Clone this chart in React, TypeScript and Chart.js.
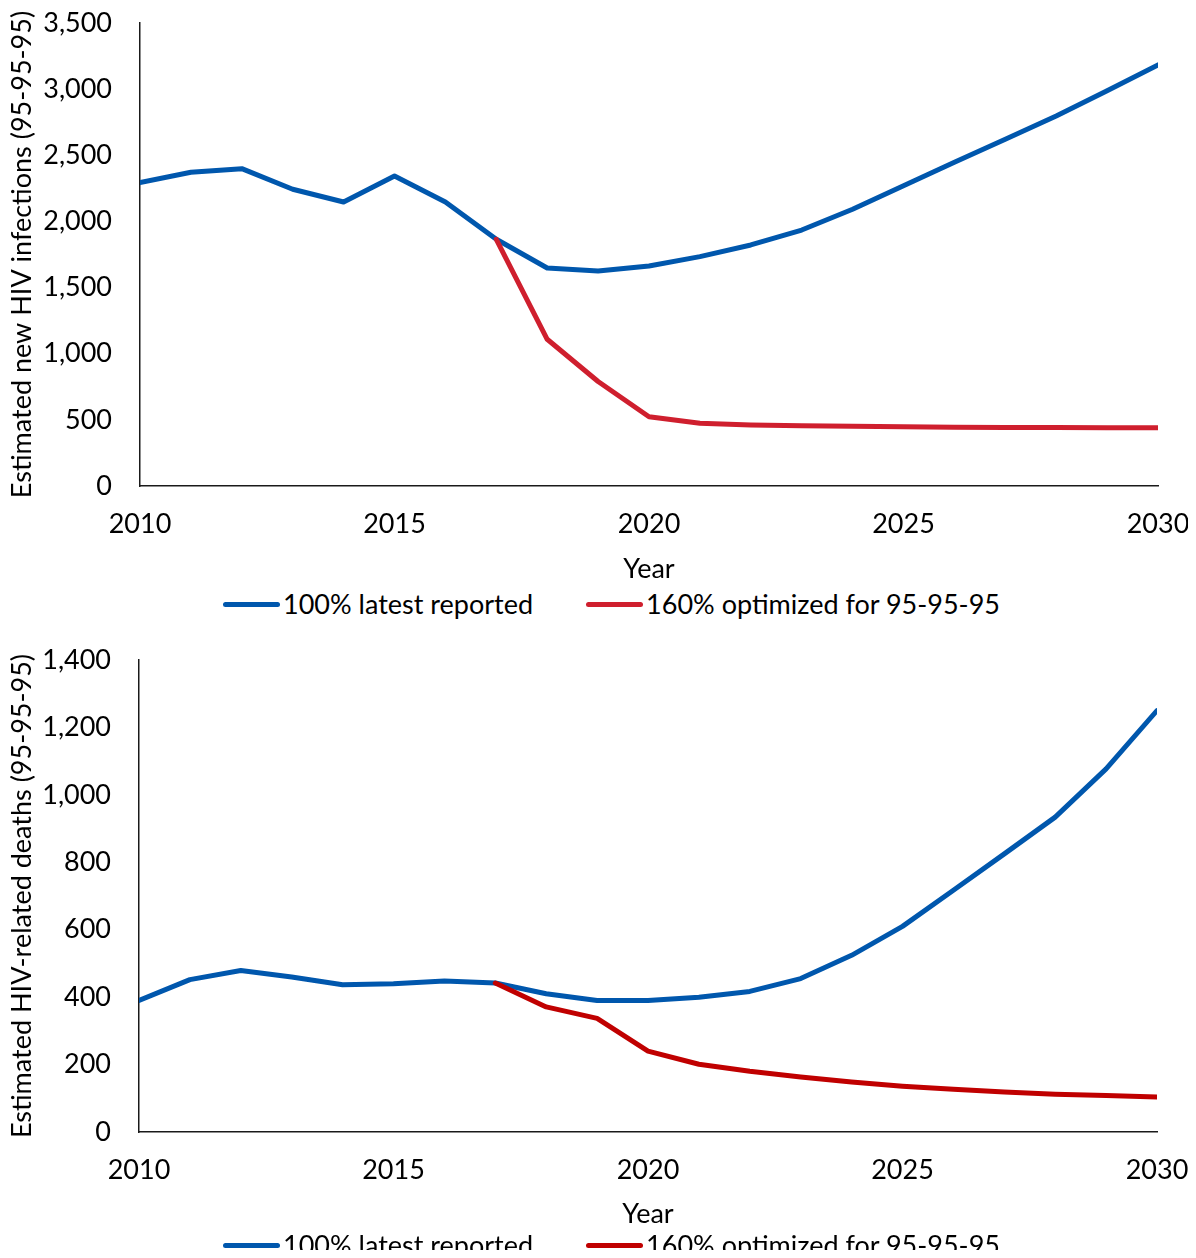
import React, { useEffect, useRef } from "react";
import { Chart, registerables } from "chart.js";

Chart.register(...registerables);

// ---------- data ----------
const years = [
  2010, 2011, 2012, 2013, 2014, 2015, 2016, 2017, 2018, 2019, 2020,
  2021, 2022, 2023, 2024, 2025, 2026, 2027, 2028, 2029, 2030,
];

const infectionsLatestReported = [
  2293, 2372, 2399, 2243, 2147, 2344, 2147, 1865, 1648, 1625, 1663,
  1734, 1822, 1935, 2092, 2270, 2447, 2621, 2797, 2988, 3183,
];
const infectionsOptimized = [
  null, null, null, null, null, null, null, 1865, 1109, 790, 524,
  474, 461, 456, 451, 448, 445, 443, 442, 441, 440,
];

const deathsLatestReported = [
  390, 452, 479, 460, 437, 440, 448, 442, 410, 390, 390,
  400, 417, 455, 524, 610, 717, 825, 934, 1077, 1250,
];
const deathsOptimized = [
  null, null, null, null, null, null, null, 442, 371, 337, 240,
  201, 180, 163, 148, 136, 127, 119, 112, 108, 104,
];

const xTickYears = [2010, 2015, 2020, 2025, 2030];
const infectionsTicks = [0, 500, 1000, 1500, 2000, 2500, 3000, 3500];
const deathsTicks = [0, 200, 400, 600, 800, 1000, 1200, 1400];
const seriesLabels = ["100% latest reported", "160% optimized for 95-95-95"];
const xTitle = "Year";
const infectionsTitle = "Estimated new HIV infections (95-95-95)";
const deathsTitle = "Estimated HIV-related deaths (95-95-95)";

// ---------- style ----------
const FONT_FAMILY = "Lato, 'Open Sans', sans-serif";
const FONT_SIZE = 27;
const BLUE = "#0057AD";
const RED_TOP = "#CF1F2E";
const RED_BOTTOM = "#C00000";
const PAGE_W = 1196;

type ChartProps = {
  canvasTop: number;
  canvasHeight: number;
  plotLeft: number;
  plotRight: number;
  plotTop: number;
  plotBottom: number;
  legendY: number;
  yTitle: string;
  yTicks: number[];
  latest: (number | null)[];
  optimized: (number | null)[];
  redColor: string;
};

function toPoints(vals: (number | null)[]) {
  const pts: { x: number; y: number }[] = [];
  years.forEach((x, i) => {
    const v = vals[i];
    if (v !== null && v !== undefined) pts.push({ x, y: v });
  });
  return pts;
}

function HivChart(p: ChartProps) {
  const ref = useRef<HTMLCanvasElement | null>(null);

  useEffect(() => {
    if (!ref.current) return;
    const font = { family: FONT_FAMILY, size: FONT_SIZE };
    const chart = new Chart(ref.current, {
      type: "line",
      data: {
        datasets: [
          {
            label: seriesLabels[0],
            data: toPoints(p.latest),
            borderColor: BLUE,
            backgroundColor: BLUE,
            borderWidth: 5,
            pointRadius: 0,
            borderCapStyle: "round",
            borderJoinStyle: "round",
            tension: 0,
            order: 1,
          },
          {
            label: seriesLabels[1],
            data: toPoints(p.optimized),
            borderColor: p.redColor,
            backgroundColor: p.redColor,
            borderWidth: 5,
            pointRadius: 0,
            borderCapStyle: "round",
            borderJoinStyle: "round",
            tension: 0,
            order: 0,
          },
        ],
      },
      options: {
        responsive: false,
        animation: false,
        devicePixelRatio: 1,
        layout: {
          padding: {
            top: p.plotTop - p.canvasTop,
            right: PAGE_W - p.plotRight,
            bottom: 0,
            left: 0,
          },
        },
        plugins: {
          legend: { display: false },
          tooltip: { enabled: false },
        },
        scales: {
          x: {
            type: "linear",
            min: years[0],
            max: years[years.length - 1],
            afterBuildTicks: (s: any) => {
              s.ticks = xTickYears.map((v) => ({ value: v }));
            },
            afterFit: (s: any) => {
              s.height = p.canvasTop + p.canvasHeight - p.plotBottom;
            },
            ticks: {
              callback: (v: any) => String(v),
              font,
              color: "#000",
              padding: 0,
              maxRotation: 0,
              autoSkip: false,
            },
            grid: { display: false, drawTicks: true, tickLength: 22 },
            border: { display: true, color: "#1a1a1a", width: 1.5 },
            title: {
              display: true,
              text: xTitle,
              font,
              color: "#000",
              padding: 0,
            },
          },
          y: {
            type: "linear",
            min: p.yTicks[0],
            max: p.yTicks[p.yTicks.length - 1],
            afterBuildTicks: (s: any) => {
              s.ticks = p.yTicks.map((v) => ({ value: v }));
            },
            afterFit: (s: any) => {
              s.width = p.plotLeft;
            },
            ticks: {
              callback: (v: any) => Number(v).toLocaleString("en-US"),
              font,
              color: "#000",
              padding: 0,
            },
            grid: { display: false, drawTicks: true, tickLength: 28 },
            border: { display: true, color: "#1a1a1a", width: 1.5 },
            title: {
              display: true,
              text: p.yTitle,
              font,
              color: "#000",
              padding: { top: 6, bottom: 0 },
            },
          },
        },
      },
    } as any);
    return () => chart.destroy();
  }, []);

  const colors = [BLUE, p.redColor];

  return (
    <>
      <canvas
        ref={ref}
        width={PAGE_W}
        height={p.canvasHeight}
        style={{
          position: "absolute",
          left: 0,
          top: p.canvasTop,
          width: PAGE_W,
          height: p.canvasHeight,
        }}
      />
      <div
        style={{
          position: "absolute",
          top: p.legendY - 17,
          left: 223,
          height: 34,
          display: "flex",
          alignItems: "center",
          fontFamily: FONT_FAMILY,
          fontSize: FONT_SIZE,
          lineHeight: "34px",
          color: "#000",
          whiteSpace: "nowrap",
        }}
      >
        {seriesLabels.map((label, i) => (
          <div
            key={label}
            style={{
              display: "flex",
              alignItems: "center",
              marginLeft: i === 0 ? 0 : 53,
            }}
          >
            <span
              style={{
                display: "inline-block",
                width: 57,
                height: 5,
                borderRadius: 3,
                background: colors[i],
              }}
            />
            <span style={{ marginLeft: 3 }}>{label}</span>
          </div>
        ))}
      </div>
    </>
  );
}

export default function App() {
  return (
    <div
      style={{
        position: "relative",
        width: PAGE_W,
        height: 1258,
        margin: -8,
        overflow: "hidden",
        background: "#fff",
      }}
    >
      <HivChart
        canvasTop={0}
        canvasHeight={585}
        plotLeft={140}
        plotRight={1158}
        plotTop={23}
        plotBottom={486}
        legendY={604}
        yTitle={infectionsTitle}
        yTicks={infectionsTicks}
        latest={infectionsLatestReported}
        optimized={infectionsOptimized}
        redColor={RED_TOP}
      />
      <HivChart
        canvasTop={630}
        canvasHeight={600}
        plotLeft={139}
        plotRight={1157}
        plotTop={660}
        plotBottom={1132}
        legendY={1245}
        yTitle={deathsTitle}
        yTicks={deathsTicks}
        latest={deathsLatestReported}
        optimized={deathsOptimized}
        redColor={RED_BOTTOM}
      />
    </div>
  );
}
